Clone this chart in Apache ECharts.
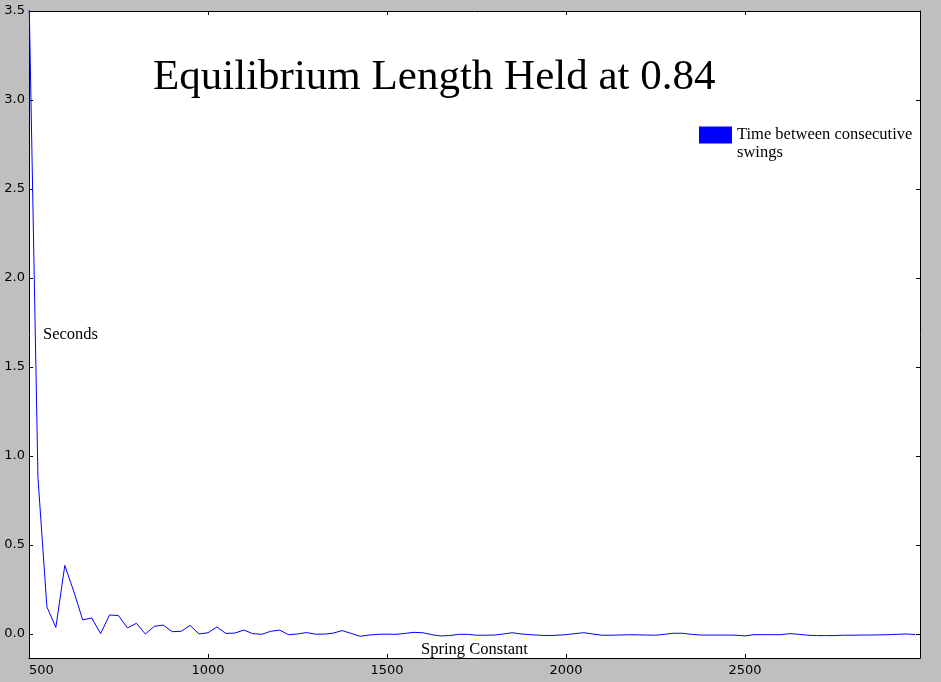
<!DOCTYPE html>
<html>
<head>
<meta charset="utf-8">
<script src="https://cdn.jsdelivr.net/npm/echarts@6/dist/echarts.min.js"></script>
<style>
html,body{margin:0;padding:0;background:#bfbfbf;}
#chart{width:941px;height:682px;}
</style>
</head>
<body>
<div id="chart"></div>
<script>
var titleText = 'Equilibrium Length Held at 0.84';
var xAxisName = 'Spring Constant';
var yAxisName = 'Seconds';
var seriesName = 'Time between consecutive swings';
var legendLines = ['Time between consecutive', 'swings'];

var springConstants = [
  500, 525, 550, 575, 600, 625, 650, 675, 700, 725,
  750, 775, 800, 825, 850, 875, 900, 925, 950, 975,
  1000, 1025, 1050, 1075, 1100, 1125, 1150, 1175, 1200, 1225,
  1250, 1275, 1300, 1325, 1350, 1375, 1400, 1425, 1450, 1475,
  1500, 1525, 1550, 1575, 1600, 1625, 1650, 1675, 1700, 1725,
  1750, 1775, 1800, 1825, 1850, 1875, 1900, 1925, 1950, 1975,
  2000, 2025, 2050, 2075, 2100, 2125, 2150, 2175, 2200, 2225,
  2250, 2275, 2300, 2325, 2350, 2375, 2400, 2425, 2450, 2475,
  2500, 2525, 2550, 2575, 2600, 2625, 2650, 2675, 2700, 2725,
  2750, 2775, 2800, 2825, 2850, 2875, 2900, 2925, 2950, 2975
];

var swingTimes = [
  3.6, 0.88, 0.152, 0.037, 0.385, 0.24, 0.079, 0.09, 0.002, 0.107,
  0.103, 0.034, 0.06, 0.0, 0.043, 0.05, 0.013, 0.015, 0.048, 0.0,
  0.007, 0.039, 0.003, 0.005, 0.022, 0.002, -0.002, 0.015, 0.022, -0.004,
  0.0, 0.008, -0.001, -0.001, 0.005, 0.019, 0.003, -0.013, -0.006, -0.002,
  -0.001, -0.002, 0.003, 0.009, 0.007, -0.004, -0.011, -0.009, -0.002, -0.002,
  -0.007, -0.007, -0.006, 0.0, 0.007, 0.0, -0.004, -0.007, -0.009, -0.007,
  -0.004, 0.002, 0.007, 0.0, -0.007, -0.007, -0.006, -0.004, -0.005, -0.006,
  -0.007, -0.002, 0.004, 0.004, -0.002, -0.006, -0.006, -0.006, -0.006, -0.007,
  -0.011, -0.004, -0.004, -0.004, -0.004, 0.002, -0.002, -0.007, -0.009, -0.009,
  -0.009, -0.007, -0.007, -0.006, -0.006, -0.005, -0.004, -0.002, 0.0, -0.003
];

var xTicks = [500, 1000, 1500, 2000, 2500];
var yTicks = [0.0, 0.5, 1.0, 1.5, 2.0, 2.5, 3.0, 3.5];

var xMin = 500, xMax = 2989;
var yMin = -0.135, yMax = 3.5;

var seriesData = springConstants.map(function (k, i) { return [k, swingTimes[i]]; });

var serif = '"Liberation Serif", "Times New Roman", serif';
var sans = '"DejaVu Sans", sans-serif';

var chart = echarts.init(document.getElementById('chart'), null, {renderer: 'canvas'});

var axisLineStyle = {show: true, onZero: false, lineStyle: {color: '#000', width: 1}};

chart.setOption({
  backgroundColor: '#bfbfbf',
  animation: false,
  title: {
    text: titleText,
    left: 153,
    top: 56,
    padding: 0,
    textStyle: {fontFamily: serif, fontSize: 43, fontWeight: 'normal', color: '#000'}
  },
  legend: {
    show: true,
    left: 699,
    top: 108,
    padding: 0,
    itemWidth: 33,
    itemHeight: 17,
    itemGap: 0,
    icon: 'rect',
    formatter: function () { return '\n' + legendLines[0] + '\n' + legendLines[1]; },
    textStyle: {fontFamily: serif, fontSize: 16.5, color: '#000', lineHeight: 18},
    data: [{name: seriesName, itemStyle: {color: '#0000ff'}}]
  },
  grid: {
    left: 29, top: 11, right: 21, bottom: 24,
    show: true, backgroundColor: '#ffffff', borderWidth: 0,
    containLabel: false,
    outerBoundsMode: 'none'
  },
  xAxis: [{
    type: 'value', position: 'bottom', min: xMin, max: xMax,
    name: xAxisName, nameLocation: 'middle', nameGap: -17, nameMoveOverlap: false,
    nameTextStyle: {fontFamily: serif, fontSize: 16.5, color: '#000', verticalAlign: 'top'},
    axisLine: axisLineStyle,
    axisTick: {show: true, inside: true, length: 4, lineStyle: {color: '#000'}, customValues: xTicks},
    axisLabel: {show: true, customValues: xTicks, margin: 6, fontFamily: sans, fontSize: 13, color: '#000', alignMinLabel: 'left',
      formatter: function (v) { return String(v); }},
    splitLine: {show: false}
  }, {
    type: 'value', position: 'top', min: xMin, max: xMax,
    axisLine: axisLineStyle,
    axisTick: {show: true, inside: true, length: 4, lineStyle: {color: '#000'}, customValues: xTicks},
    axisLabel: {show: false},
    splitLine: {show: false}
  }],
  yAxis: [{
    type: 'value', position: 'left', min: yMin, max: yMax,
    name: yAxisName, nameLocation: 'middle', nameGap: -14, nameRotate: 0, nameMoveOverlap: false,
    nameTextStyle: {fontFamily: serif, fontSize: 16.5, color: '#000', align: 'left', verticalAlign: 'middle', padding: [0, 0, 6, 0]},
    axisLine: axisLineStyle,
    axisTick: {show: true, inside: true, length: 4, lineStyle: {color: '#000'}, customValues: yTicks},
    axisLabel: {show: true, customValues: yTicks, margin: 4, fontFamily: sans, fontSize: 13, color: '#000',
      padding: [5, 0, 0, 0],
      formatter: function (v) { return v.toFixed(1); }},
    splitLine: {show: false}
  }, {
    type: 'value', position: 'right', min: yMin, max: yMax,
    axisLine: axisLineStyle,
    axisTick: {show: true, inside: true, length: 4, lineStyle: {color: '#000'}, customValues: yTicks},
    axisLabel: {show: false},
    splitLine: {show: false}
  }],
  series: [{
    name: seriesName,
    type: 'line',
    xAxisIndex: 0,
    yAxisIndex: 0,
    data: seriesData,
    showSymbol: false,
    symbol: 'none',
    clip: true,
    lineStyle: {color: '#0000ff', width: 1},
    itemStyle: {color: '#0000ff'},
    z: 1
  }]
});
</script>
</body>
</html>
